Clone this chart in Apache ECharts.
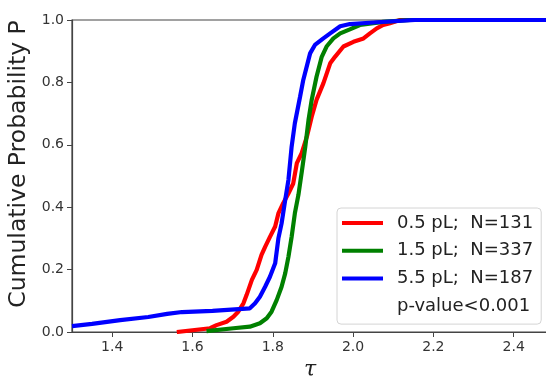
<!DOCTYPE html>
<html>
<head>
<meta charset="utf-8">
<script src="https://cdn.jsdelivr.net/npm/echarts@6/dist/echarts.min.js"></script>
<style>
  html, body { margin: 0; padding: 0; background: #fff; }
  #chart { width: 546px; height: 379px; }
</style>
</head>
<body>
<div id="chart"></div>
<script>
// cumulative distributions (tau, P)
var redTau = [1.561, 1.644, 1.660, 1.685, 1.702, 1.714, 1.727, 1.735, 1.748, 1.760, 1.772, 1.781, 1.793, 1.806, 1.814, 1.826, 1.839, 1.851, 1.860, 1.872, 1.885, 1.897, 1.909, 1.926, 1.943, 1.955, 1.976, 2.001, 2.026, 2.042, 2.059, 2.075, 2.092, 2.117, 2.49]
var redP = [0, 0.012, 0.022, 0.033, 0.049, 0.065, 0.092, 0.119, 0.167, 0.199, 0.247, 0.273, 0.305, 0.338, 0.38, 0.413, 0.444, 0.476, 0.541, 0.573, 0.626, 0.69, 0.744, 0.797, 0.861, 0.882, 0.915, 0.93, 0.941, 0.957, 0.973, 0.984, 0.99, 1.0, 1.0]

var greenTau = [1.635, 1.702, 1.743, 1.768, 1.785, 1.797, 1.810, 1.822, 1.831, 1.839, 1.847, 1.855, 1.864, 1.873, 1.881, 1.889, 1.897, 1.909, 1.922, 1.934, 1.951, 1.968, 1.992, 2.017, 2.075, 2.142, 2.49]
var greenP = [0.003, 0.012, 0.017, 0.028, 0.044, 0.065, 0.103, 0.145, 0.188, 0.241, 0.305, 0.38, 0.44, 0.52, 0.594, 0.679, 0.744, 0.818, 0.882, 0.915, 0.941, 0.957, 0.97, 0.984, 0.994, 1.0, 1.0]

var blueTau = [1.300, 1.350, 1.420, 1.490, 1.537, 1.574, 1.650, 1.743, 1.756, 1.768, 1.781, 1.793, 1.806, 1.814, 1.822, 1.831, 1.839, 1.847, 1.855, 1.868, 1.876, 1.893, 1.905, 1.926, 1.943, 1.968, 1.992, 2.050, 2.154, 2.49]
var blueP = [0.019, 0.026, 0.038, 0.048, 0.058, 0.064, 0.068, 0.076, 0.092, 0.113, 0.145, 0.177, 0.22, 0.30, 0.348, 0.423, 0.487, 0.594, 0.669, 0.754, 0.808, 0.893, 0.92, 0.941, 0.957, 0.98, 0.987, 0.992, 1.0, 1.0]

var xTicks = [1.4, 1.6, 1.8, 2.0, 2.2, 2.4]
var legendNames = ['0.5 pL;  N=131', '1.5 pL;  N=337', '5.5 pL;  N=187', 'p-value<0.001']

function zip(xs, ys) {
  return xs.map(function (x, i) { return [x, ys[i]] })
}

var chart = echarts.init(document.getElementById('chart'), null, { renderer: 'canvas' })

function lineSeries(name, color, xs, ys) {
  return {
    name: name,
    type: 'line',
    showSymbol: false,
    symbol: 'none',
    data: zip(xs, ys),
    color: color,
    lineStyle: { color: color, width: 4.2 },
    emphasis: { disabled: true }
  }
}

chart.setOption({
  animation: false,
  textStyle: { fontFamily: 'DejaVu Sans' },
  grid: {
    left: 72,
    top: 20,
    right: -2,
    bottom: 47,
    outerBoundsMode: 'none',
    containLabel: false,
    show: true,
    borderColor: '#444',
    borderWidth: 1.2
  },
  xAxis: {
    type: 'value',
    min: 1.3,
    max: 2.4855,
    name: 'τ',
    nameLocation: 'middle',
    nameGap: 25,
    nameTextStyle: { fontSize: 22, fontStyle: 'italic', color: '#222', fontFamily: 'DejaVu Serif' },
    axisLine: { show: true, onZero: false, lineStyle: { color: '#444', width: 1.2 } },
    axisTick: { show: true, length: 5, customValues: xTicks, lineStyle: { color: '#444' } },
    axisLabel: {
      customValues: xTicks,
      fontSize: 14,
      color: '#333',
      margin: 8,
      formatter: function (v) { return v.toFixed(1) }
    },
    splitLine: { show: false }
  },
  yAxis: {
    type: 'value',
    min: 0,
    max: 1,
    interval: 0.2,
    name: 'Cumulative Probability P',
    nameLocation: 'middle',
    nameGap: 39,
    nameTextStyle: { fontSize: 23.5, color: '#222', padding: [0, 0, 0, 24] },
    axisLine: { show: true, lineStyle: { color: '#444', width: 1.2 } },
    axisTick: { show: true, length: 5, lineStyle: { color: '#444' } },
    axisLabel: {
      fontSize: 14,
      color: '#333',
      margin: 8,
      formatter: function (v) { return v.toFixed(1) }
    },
    splitLine: { show: false }
  },
  legend: {
    left: 337,
    top: 208,
    orient: 'vertical',
    data: legendNames,
    icon: 'rect',
    itemWidth: 41,
    itemHeight: 4,
    itemGap: 9.7,
    padding: [6, 8, 9, 5],
    backgroundColor: '#fff',
    borderColor: '#d4d4d4',
    borderWidth: 1,
    borderRadius: 4,
    selectedMode: false,
    textStyle: { fontSize: 18, color: '#222', lineHeight: 18, padding: [0, 0, 0, 9] }
  },
  series: [
    lineSeries(legendNames[0], '#ff0000', redTau, redP),
    lineSeries(legendNames[1], '#008000', greenTau, greenP),
    lineSeries(legendNames[2], '#0000ff', blueTau, blueP),
    {
      name: legendNames[3],
      type: 'line',
      data: [],
      color: 'rgba(0,0,0,0)',
      lineStyle: { color: 'rgba(0,0,0,0)' }
    }
  ]
})
</script>
</body>
</html>
